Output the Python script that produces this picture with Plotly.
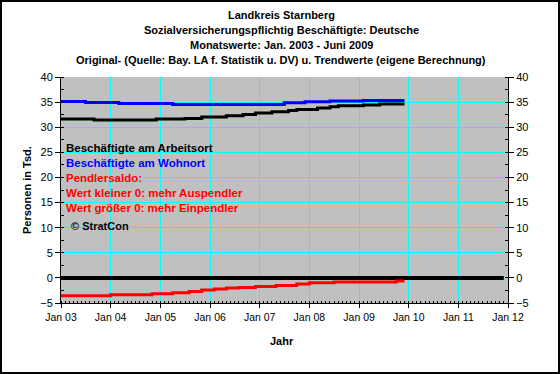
import plotly.graph_objects as go

# ---- data ----
wohnort_dates = ["2003-01-01", "2003-07-01", "2004-03-01", "2005-04-01", "2007-07-01",
                 "2007-12-01", "2008-06-01", "2009-02-01", "2009-12-01"]
wohnort_vals = [35.14, 34.94, 34.74, 34.54, 34.88, 35.08, 35.22, 35.34, 35.34]

arbeitsort_dates = ["2003-01-01", "2003-09-01", "2004-12-01", "2005-07-01", "2005-11-01",
                    "2006-05-01", "2006-09-01", "2006-12-01", "2007-04-01", "2007-08-01",
                    "2007-10-01", "2008-03-01", "2008-06-01", "2008-08-01", "2009-02-01",
                    "2009-06-01", "2009-12-01"]
arbeitsort_vals = [31.63, 31.43, 31.63, 31.75, 32.03, 32.29, 32.55, 32.83, 33.09, 33.35,
                   33.55, 33.82, 34.08, 34.28, 34.42, 34.62, 34.62]

saldo_dates = ["2003-01-01", "2004-01-01", "2004-11-01", "2005-04-01", "2005-08-01",
               "2005-11-01", "2006-02-01", "2006-05-01", "2006-08-01", "2006-12-01",
               "2007-05-01", "2007-10-01", "2008-01-01", "2008-07-01", "2009-10-01",
               "2009-12-01"]
saldo_vals = [-3.57, -3.37, -3.17, -2.97, -2.71, -2.43, -2.23, -2.03, -1.91, -1.71,
              -1.51, -1.24, -0.98, -0.84, -0.64, -0.64]

null_dates = ["2003-01-01", "2011-12-01"]
null_vals = [0, 0]

title_lines = ["Landkreis Starnberg",
               "Sozialversicherungspflichtig Beschäftigte: Deutsche",
               "Monatswerte: Jan. 2003 - Juni 2009",
               "Original- (Quelle: Bay. LA f. Statistik u. DV) u. Trendwerte (eigene Berechnung)"]
note_lines = [("Beschäftigte am Arbeitsort", "black"),
              ("Beschäftigte am Wohnort", "#0000FF"),
              ("Pendlersaldo:", "#FF0000"),
              ("Wert kleiner 0: mehr Auspendler", "#FF0000"),
              ("Wert größer 0: mehr Einpendler", "#FF0000")]
copyright_text = "© StratCon"

# ---- layout geometry ----
W, H = 560, 374
L, R, T, B = 61, 52, 77, 71
PW, PH = W - L - R, H - T - B


def px(x):
    return (x - L) / PW


def py(y):
    return (H - B - y) / PH


FONT = "Liberation Sans, Arial, sans-serif"

fig = go.Figure()
fig.add_trace(go.Scatter(x=null_dates, y=null_vals, mode="lines",
                         line=dict(color="black", width=4), name="Null"))
fig.add_trace(go.Scatter(x=arbeitsort_dates, y=arbeitsort_vals, mode="lines", line_shape="hv",
                         line=dict(color="black", width=3), name="Arbeitsort"))
fig.add_trace(go.Scatter(x=wohnort_dates, y=wohnort_vals, mode="lines", line_shape="hv",
                         line=dict(color="#0000FF", width=3), name="Wohnort"))
fig.add_trace(go.Scatter(x=saldo_dates, y=saldo_vals, mode="lines", line_shape="hv",
                         line=dict(color="#FF0000", width=3), name="Saldo"))
fig.add_trace(go.Scatter(x=null_dates, y=null_vals, yaxis="y2", mode="lines",
                         line=dict(width=0), opacity=0, hoverinfo="skip", showlegend=False))

annotations = []
for i, t in enumerate(title_lines):
    annotations.append(dict(text="<b>%s</b>" % t, x=px(281), y=py([15, 30, 45, 60][i]),
                            xref="paper", yref="paper", showarrow=False,
                            xanchor="center", yanchor="middle",
                            font=dict(family=FONT, size=11, color="black")))
for i, (t, c) in enumerate(note_lines):
    annotations.append(dict(text="<b>%s</b>" % t, x=px(64), y=py(147.5 + 15.2 * i),
                            xref="paper", yref="paper", showarrow=False,
                            xanchor="left", yanchor="middle",
                            font=dict(family=FONT, size=11.5, color=c)))
annotations.append(dict(text="<b>%s</b>" % copyright_text, x=px(69), y=py(225.5),
                        xref="paper", yref="paper", showarrow=False,
                        xanchor="left", yanchor="middle",
                        font=dict(family=FONT, size=11, color="black")))
annotations.append(dict(text="<b>Jahr</b>", x=px(282), y=py(341),
                        xref="paper", yref="paper", showarrow=False,
                        xanchor="center", yanchor="middle",
                        font=dict(family=FONT, size=11, color="black")))
annotations.append(dict(text="<b>Personen in Tsd.</b>", x=px(27), y=py(190), textangle=-90,
                        xref="paper", yref="paper", showarrow=False,
                        xanchor="center", yanchor="middle",
                        font=dict(family=FONT, size=11, color="black")))

shapes = [dict(type="rect", xref="paper", yref="paper",
               x0=px(1), x1=px(559), y0=py(373), y1=py(1),
               line=dict(color="black", width=2), fillcolor="rgba(0,0,0,0)", layer="above")]

yax = dict(range=[-5, 40], dtick=5, tick0=0, showgrid=True, gridcolor="#00FFFF", gridwidth=1,
           zeroline=False, showline=True, linecolor="black", linewidth=1,
           ticks="outside", ticklen=5, tickcolor="black",
           minor=dict(dtick=2.5, ticks="inside", ticklen=3, tickcolor="black", showgrid=False),
           tickfont=dict(family=FONT, size=11, color="black"), fixedrange=True)

fig.update_layout(
    width=W, height=H, margin=dict(l=L, r=R, t=T, b=B, autoexpand=False),
    paper_bgcolor="white", plot_bgcolor="#C0C0C0", showlegend=False,
    xaxis=dict(type="date", range=["2003-01-01", "2012-01-01"], dtick="M12",
               tick0="2003-01-01", tickformat="%b %y", showgrid=True, gridcolor="#00FFFF",
               gridwidth=1, zeroline=False, showline=True, linecolor="black", linewidth=1,
               ticks="outside", ticklen=4, tickcolor="black",
               minor=dict(dtick="M1", ticks="inside", ticklen=2, tickcolor="black",
                          showgrid=False),
               tickfont=dict(family=FONT, size=10.5, color="black")),
    yaxis=yax,
    yaxis2=dict(yax, overlaying="y", side="right", showgrid=False),
    annotations=annotations, shapes=shapes,
)

fig.write_html("out.html", config={"displayModeBar": False},
               post_script="document.body.style.margin='0';document.body.style.overflow='hidden';")
